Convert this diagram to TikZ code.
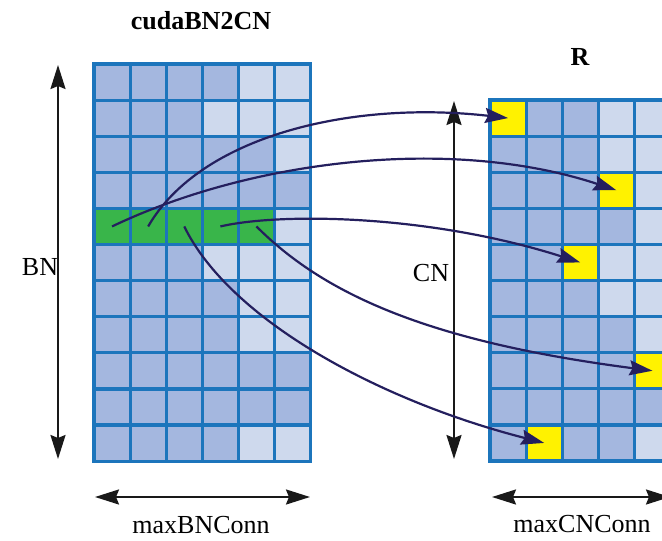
\documentclass[tikz,border=0pt]{standalone}
\usepackage{fontspec}
\setmainfont{Liberation Serif}
\usetikzlibrary{arrows.meta}
\definecolor{cD}{HTML}{A4B7DF}
\definecolor{cL}{HTML}{CED9ED}
\definecolor{cG}{HTML}{39B54A}
\definecolor{cY}{HTML}{FFF200}
\definecolor{gridblue}{HTML}{1C75BC}
\definecolor{navy}{HTML}{241F5E}
\begin{document}
\begin{tikzpicture}[x=1pt,y=-1pt,
  cell/.style={draw=gridblue, line width=3.2pt, minimum size=36.1pt, inner sep=0pt, outer sep=0pt},
  dimarrow/.style={black!90, line width=2.2pt,
    {Stealth[length=24pt,width=15pt,inset=3pt]}-{Stealth[length=24pt,width=15pt,inset=3pt]}},
  link/.style={navy, line width=2.2pt, -{Stealth[length=23pt,width=15pt,inset=3pt]}},
  lbl/.style={font=\fontsize{26}{30}\selectfont, inner sep=0pt, anchor=base},
  ]
\useasboundingbox (0,0) rectangle (662,541);

% left grid: cudaBN2CN
\foreach \row [count=\r] in {
  {D,D,D,D,L,L},{D,D,D,L,L,L},{D,D,D,D,D,L},{D,D,D,D,D,D},{G,G,G,G,G,L},
  {D,D,D,L,L,L},{D,D,D,D,L,L},{D,D,D,D,L,L},{D,D,D,D,D,D},{D,D,D,D,D,D},
  {D,D,D,D,L,L}}{
  \foreach \t [count=\c] in \row {
    \node[cell, fill=c\t] (L-\r-\c) at ({94+36.1*(\c-0.5)},{64+36.1*(\r-0.5)}) {};
  }
}

% right grid: R
\foreach \row [count=\r] in {
  {Y,D,D,L,L},{D,D,D,L,L},{D,D,D,Y,L},{D,D,D,D,L},{D,D,Y,L,L},
  {D,D,D,L,L},{D,D,D,D,L},{D,D,D,D,Y},{D,D,D,D,D},{D,Y,D,D,L}}{
  \foreach \t [count=\c] in \row {
    \node[cell, fill=c\t] (R-\r-\c) at ({490+36.1*(\c-0.5)},{100+36.1*(\r-0.5)}) {};
  }
}

% titles and labels
\node[lbl, font=\fontsize{26}{30}\selectfont\bfseries] (title) at (201,29) {cudaBN2CN};
\node[lbl, font=\fontsize{26}{30}\selectfont\bfseries] (rtitle) at (580,65) {R};
\node[lbl] (bnlbl) at (40,275) {BN};
\node[lbl] (cnlbl) at (431,281) {CN};
\node[lbl] (bclbl) at (201,533) {maxBNConn};
\node[lbl] (cclbl) at (582,532) {maxCNConn};

% dimension arrows
\coordinate (bnT) at (58,65);
\coordinate (bnB) at (58,459);
\coordinate (cnT) at (454,101);
\coordinate (cnB) at (454,459);
\coordinate (bcL) at (95,497);
\coordinate (bcR) at (310,497);
\coordinate (ccL) at (492,497);
\coordinate (ccR) at (670,497);
\draw[dimarrow] (bnT) -- (bnB);
\draw[dimarrow] (cnT) -- (cnB);
\draw[dimarrow] (bcL) -- (bcR);
\draw[dimarrow] (ccL) -- (ccR);

% links from green row to yellow cells
\draw[link] (L-5-2.center) .. controls +(52,-90) and +(-158,-18) .. (R-1-1.center);
\draw[link] (L-5-1.center) .. controls +(138,-66) and +(-166,-55) .. (R-3-4.center);
\draw[link] (L-5-4.center) .. controls +(60,-14) and +(-150,-48) .. (R-5-3.center);
\draw[link] (L-5-5.center) .. controls +(64,64) and +(-232,-30) .. (R-8-5.center);
\draw[link] (L-5-3.center) .. controls +(46,94) and +(-164,-42) .. (R-10-2.center);
\end{tikzpicture}
\end{document}
